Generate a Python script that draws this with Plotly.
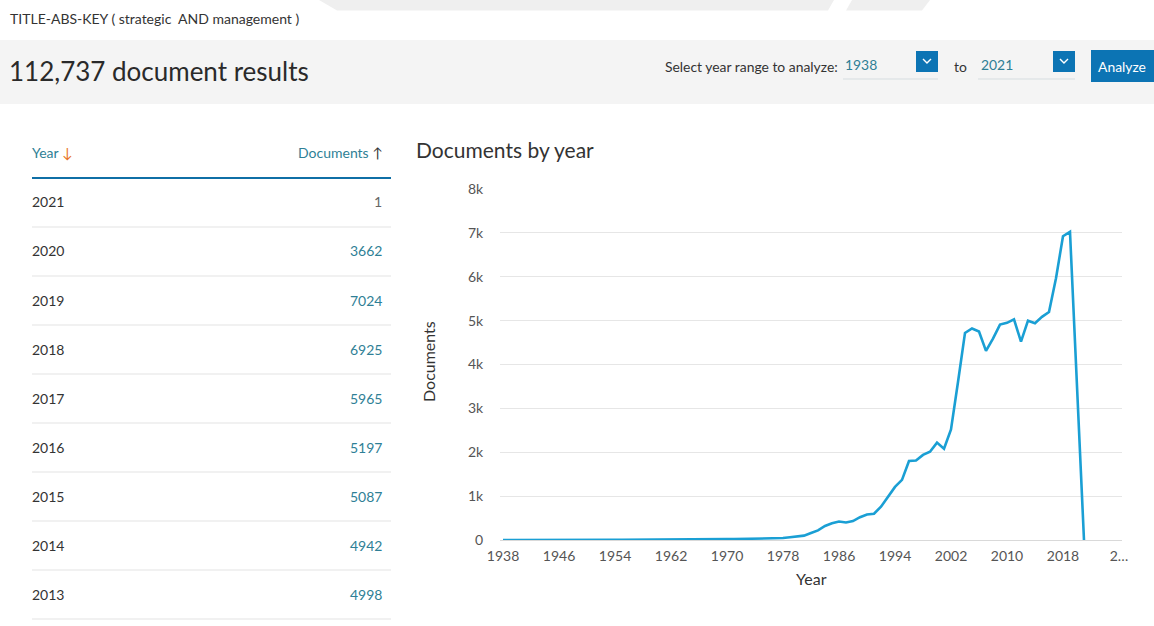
import plotly.graph_objects as go

# ---------------- data ----------------
years = list(range(1938, 2022))
documents = [
    1, 0, 1, 0, 0, 1, 0, 1, 1, 2,          # 1938-1947
    1, 2, 2, 1, 2, 3, 2, 3, 3, 4,          # 1948-1957
    4, 5, 6, 6, 7, 8, 9, 10, 11, 12,       # 1958-1967
    14, 16, 19, 21, 22, 24, 26, 28, 31, 36,  # 1968-1977
    45, 62, 75, 100, 160, 220, 320, 380, 420, 400,  # 1978-1987
    430, 520, 580, 600, 760, 1000, 1210, 1370, 1800, 1810,  # 1988-1997
    1940, 2010, 2220, 2080, 2520, 3600, 4720, 4820, 4750, 4310,  # 1998-2007
    4590, 4910, 4950, 5030, 4520, 4998, 4942, 5087, 5197, 5965,  # 2008-2017
    6925, 7024, 3662, 1,                   # 2018-2021
]
table_years = [2021, 2020, 2019, 2018, 2017, 2016, 2015, 2014, 2013]
x_tick_vals = [1938, 1946, 1954, 1962, 1970, 1978, 1986, 1994, 2002, 2010, 2018, 2026]
x_tick_text = ["1938", "1946", "1954", "1962", "1970", "1978", "1986", "1994", "2002", "2010", "2018", "2…"]
y_tick_vals = [0, 1000, 2000, 3000, 4000, 5000, 6000, 7000, 8000]
y_tick_text = ["0", "1k", "2k", "3k", "4k", "5k", "6k", "7k", "8k"]

query_text = "TITLE-ABS-KEY ( strategic  AND management )"
results_text = "112,737 document results"
year_from, year_to = "1938", "2021"

W, H = 1154, 626
FONT = "Lato"
TEAL = "#2f7f96"
DARK = "#333333"
BLUE = "#0c74b4"


def px(x):
    return x / W


def py(y):
    return 1 - y / H


fig = go.Figure()
fig.add_trace(go.Scatter(
    x=years, y=documents, mode="lines",
    line=dict(color="#1a9fd4", width=2.6),
    hoverinfo="x+y", showlegend=False,
))

shapes = []
annotations = []


def rect(x0, y0, x1, y1, color):
    shapes.append(dict(type="rect", xref="paper", yref="paper",
                       x0=px(x0), x1=px(x1), y0=py(y1), y1=py(y0),
                       fillcolor=color, line=dict(width=0), layer="below"))


def hline(x0, x1, y, color, width=1):
    shapes.append(dict(type="line", xref="paper", yref="paper",
                       x0=px(x0), x1=px(x1), y0=py(y), y1=py(y),
                       line=dict(color=color, width=width), layer="below"))


def poly(points, color):
    path = "M " + " L ".join(f"{px(a):.5f},{py(b):.5f}" for a, b in points) + " Z"
    shapes.append(dict(type="path", xref="paper", yref="paper", path=path,
                       fillcolor=color, line=dict(width=0), layer="below"))


def text(x, y, s, size=13, color=DARK, xanchor="left", yanchor="middle", angle=0):
    annotations.append(dict(x=px(x), y=py(y), xref="paper", yref="paper", text=s,
                            showarrow=False, xanchor=xanchor, yanchor=yanchor,
                            borderpad=0, textangle=angle,
                            font=dict(family=FONT, size=size, color=color)))


# top decorative strip
poly([(319, 0), (834, 0), (828, 10.5), (337, 10.5)], "#efefef")
poly([(852, 0), (930, 0), (922, 10.5), (846, 10.5)], "#efefef")

# header band
rect(0, 40, W, 104, "#f4f4f4")

text(9, 18, query_text, size=14)
text(8, 71, results_text, size=26, color="#2a2a2a")

# year range controls
text(664, 66, "Select year range to analyze:", size=13.9)
text(844, 64, year_from, size=13.9, color=TEAL)
hline(843, 938, 79, "#d6dde0")
rect(916, 51, 938, 72, BLUE)
text(953, 66, "to", size=13.9)
text(980, 64, year_to, size=13.9, color=TEAL)
hline(978, 1075, 79, "#d6dde0")
rect(1053, 51, 1075, 72, BLUE)
for cx in (927, 1064):
    shapes.append(dict(type="path", xref="paper", yref="paper",
                       path=f"M {px(cx-4):.5f},{py(59):.5f} L {px(cx):.5f},{py(63):.5f} L {px(cx+4):.5f},{py(59):.5f}",
                       line=dict(color="white", width=1.4)))
rect(1091, 50, W, 82, BLUE)
text(1122, 66, "Analyze", size=13.9, color="white", xanchor="center")

# table
text(31, 152, "Year <span style='color:#e8742a'>↓</span>", size=14, color=TEAL)
text(384, 152, "Documents <span style='color:#333333'>↑</span>", size=14, color=TEAL, xanchor="right")
hline(32, 391, 178, "#0f6fa6", width=2)
for i, yr in enumerate(table_years):
    cy = 202 + 49 * i
    val = documents[years.index(yr)]
    text(31, cy, str(yr), size=14, color=DARK)
    text(383, cy, str(val), size=14, color="#666666" if i == 0 else TEAL, xanchor="right")
    hline(32, 391, cy + 25, "#ececec", width=1.5)

# chart title and axis titles
text(415, 149, "Documents by year", size=21, color=DARK)
text(428, 362, "Documents", size=16, color=DARK, xanchor="center", angle=-90)
text(811, 578, "Year", size=16, color=DARK, xanchor="center")

fig.update_layout(
    width=W, height=H, autosize=False,
    margin=dict(l=0, r=0, t=0, b=0, pad=0, autoexpand=False),
    paper_bgcolor="white", plot_bgcolor="rgba(0,0,0,0)",
    shapes=shapes, annotations=annotations,
    font=dict(family=FONT, color="#555555"),
    xaxis=dict(
        domain=[px(500), px(1122)], range=[1937.57, 2026.43], automargin=False,
        tickvals=x_tick_vals, ticktext=x_tick_text,
        showgrid=False, zeroline=False, showline=True, linecolor="#d9d9d9", linewidth=1,
        ticks="outside", ticklen=3, tickcolor="rgba(0,0,0,0)",
        tickfont=dict(family=FONT, size=14, color="#555555"),
    ),
    yaxis=dict(
        domain=[py(540), py(189)], range=[0, 8000], automargin=False,
        tickvals=y_tick_vals, ticktext=y_tick_text,
        showgrid=True, gridcolor="#e6e6e6", gridwidth=1, zeroline=False, showline=False,
        ticks="outside", ticklen=13, tickcolor="rgba(0,0,0,0)",
        tickfont=dict(family=FONT, size=14, color="#555555"),
    ),
)

fig.write_html(
    "out.html",
    config={"displayModeBar": False},
    post_script="document.body.style.margin='0';document.body.style.overflow='hidden';",
)
